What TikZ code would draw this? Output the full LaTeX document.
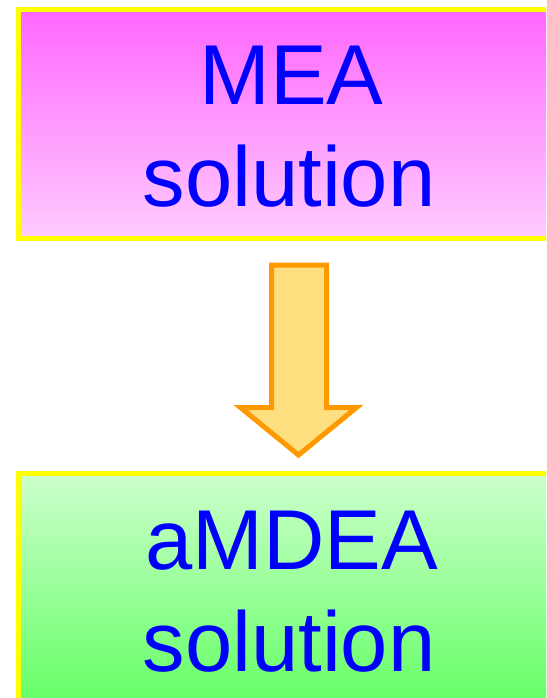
\documentclass[tikz,border=0pt]{standalone}
\usepackage{fontspec}
\setmainfont{Liberation Sans}
\definecolor{boxborder}{HTML}{FFFF00}
\definecolor{magtop}{HTML}{FF66FF}
\definecolor{magbot}{HTML}{FFCCFF}
\definecolor{grntop}{HTML}{CCFFCC}
\definecolor{grnbot}{HTML}{66FF66}
\definecolor{txtblue}{HTML}{0000FF}
\definecolor{arrline}{HTML}{FF9900}
\definecolor{arrfill}{HTML}{FFE080}
\tikzset{
  panel/.style={draw=boxborder, line width=5pt, minimum width=543.5pt, minimum height=229pt, inner sep=0pt},
  label/.style={text=txtblue, font=\fontsize{85}{102}\selectfont, anchor=base, inner sep=0pt},
  blockarrow/.style={draw=arrline, fill=arrfill, line width=5pt, line join=miter}
}
\begin{document}
\begin{tikzpicture}[x=1pt,y=-1pt]
\useasboundingbox (0,0) rectangle (546,698);
\clip (0,0) rectangle (546,698);
\fill[white] (0,0) rectangle (546,698);
\node[panel, top color=magtop, bottom color=magbot] (mea) at (290.25,124) {};
\node[panel, top color=grntop, bottom color=grnbot] (amdea) at (290.25,588) {};
\node[label] (mea1) at (291.5,105) {MEA};
\node[label] (mea2) at (289,206.7) {solution};
\node[label] (amdea1) at (291.5,569) {aMDEA};
\node[label] (amdea2) at (289,671.7) {solution};
\draw[blockarrow] (271.5,265) -- (326.5,265) -- (326.5,407.5) -- (356.5,407.5)
  -- (298.5,455) -- (240.5,407.5) -- (271.5,407.5) -- cycle;
\end{tikzpicture}
\end{document}
